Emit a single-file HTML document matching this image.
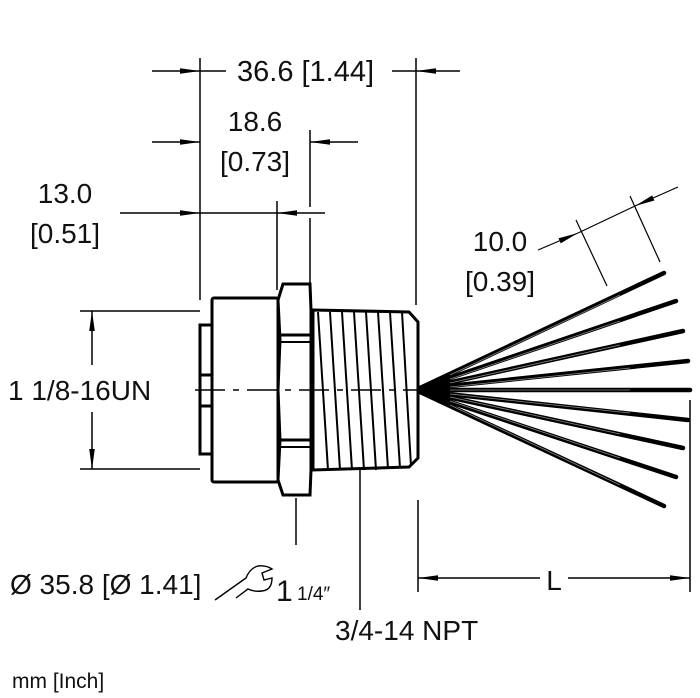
<!DOCTYPE html>
<html><head><meta charset="utf-8"><style>
html,body{margin:0;padding:0;background:#fff;}
svg{display:block;}
text{font-family:"Liberation Sans",sans-serif;fill:#111;}
</style></head><body>
<svg width="700" height="698" viewBox="0 0 700 698" xmlns="http://www.w3.org/2000/svg">
<defs>
<marker id="a" markerWidth="20" markerHeight="8" refX="20" refY="4" orient="auto" markerUnits="userSpaceOnUse"><path d="M0,1.2 L20,4 L0,6.8 Z" fill="#000"/></marker>
</defs>
<g stroke="#000" stroke-width="1.5" fill="none">
<line x1="200" y1="58" x2="200" y2="300"/>
<line x1="416" y1="58" x2="416" y2="305"/>
<line x1="310" y1="130" x2="310" y2="207"/>
<line x1="310" y1="218" x2="310" y2="284"/>
<line x1="277" y1="201" x2="277" y2="290"/>
<line x1="152" y1="71" x2="200" y2="71" marker-end="url(#a)"/>
<line x1="200" y1="71" x2="226" y2="71"/>
<line x1="460" y1="71" x2="416" y2="71" marker-end="url(#a)"/>
<line x1="392" y1="71" x2="416" y2="71"/>
<line x1="152" y1="142" x2="200" y2="142" marker-end="url(#a)"/>
<line x1="358" y1="142" x2="310" y2="142" marker-end="url(#a)"/>
<line x1="120" y1="213" x2="200" y2="213" marker-end="url(#a)"/>
<line x1="200" y1="213" x2="277" y2="213"/>
<line x1="325" y1="213" x2="277" y2="213" marker-end="url(#a)"/>
<line x1="80" y1="311" x2="200" y2="311"/>
<line x1="80" y1="469" x2="200" y2="469"/>
<line x1="92" y1="365" x2="92" y2="311" marker-end="url(#a)"/>
<line x1="92" y1="412" x2="92" y2="469" marker-end="url(#a)"/>
<line x1="418" y1="500" x2="418" y2="592"/>
<line x1="690" y1="400" x2="690" y2="592"/>
<line x1="540" y1="578" x2="418" y2="578" marker-end="url(#a)"/>
<line x1="568" y1="578" x2="690" y2="578" marker-end="url(#a)"/>
<line x1="296" y1="498" x2="296" y2="545"/>
<line x1="360" y1="470" x2="360" y2="610"/>
<line x1="576" y1="220" x2="607" y2="286" stroke-width="1.2"/>
<line x1="630" y1="196" x2="660" y2="262" stroke-width="1.2"/>
<line x1="538" y1="250" x2="578" y2="233" marker-end="url(#a)" stroke-width="1.2"/>
<line x1="678" y1="187" x2="635" y2="206" marker-end="url(#a)" stroke-width="1.2"/>
<line x1="578" y1="233" x2="635" y2="206" stroke-width="1.2"/>
</g>
<g stroke="#000" fill="#fff" stroke-width="3">
<rect x="200" y="325" width="12" height="129"/>
<line x1="200" y1="375" x2="212" y2="375"/>
<line x1="200" y1="406" x2="212" y2="406"/>
<rect x="212" y="298" width="66" height="184" rx="2"/>
<path d="M283,284 L310,284 L311,310 L311,470 L310,495 L283,495 L278,480 L280,440 L278,390 L280,340 L278,300 Z"/>
<line x1="280" y1="335" x2="311" y2="335"/>
<line x1="280" y1="342" x2="311" y2="342" stroke-width="2"/>
<line x1="280" y1="440" x2="311" y2="440"/>
<line x1="280" y1="447" x2="311" y2="447" stroke-width="2"/>
<path d="M313,310 L409,312 L418,322 L418,458 L409,467 L313,470 Z"/>
</g>
<g stroke="#000" stroke-width="2">
<line x1="318" y1="312" x2="328" y2="470"/><line x1="330" y1="312" x2="340" y2="470"/>
<line x1="342" y1="312" x2="352" y2="470"/><line x1="354" y1="312" x2="364" y2="470"/>
<line x1="366" y1="312" x2="376" y2="470"/><line x1="378" y1="312" x2="388" y2="469"/>
<line x1="390" y1="312" x2="400" y2="468"/><line x1="402" y1="312" x2="411" y2="466"/>
</g>
<line x1="195" y1="390" x2="420" y2="390" stroke="#000" stroke-width="1.5" stroke-dasharray="30,8,6,8"/>
<g stroke="#000" stroke-width="4.5" stroke-linecap="round">
<line x1="420" y1="388" x2="664" y2="273"/>
<line x1="420" y1="388" x2="676" y2="301"/>
<line x1="420" y1="389" x2="683" y2="331"/>
<line x1="420" y1="389" x2="688" y2="361"/>
<line x1="420" y1="390" x2="690" y2="390"/>
<line x1="420" y1="391" x2="688" y2="420"/>
<line x1="420" y1="391" x2="683" y2="448"/>
<line x1="420" y1="392" x2="676" y2="477"/>
<line x1="420" y1="392" x2="664" y2="506"/>
</g>
<g stroke="#888" stroke-width="0.8">
<line x1="450" y1="375" x2="620" y2="295"/>
<line x1="450" y1="379" x2="620" y2="321"/>
<line x1="450" y1="383" x2="620" y2="345"/>
<line x1="450" y1="387" x2="630" y2="368"/>
<line x1="450" y1="390" x2="630" y2="390"/>
<line x1="450" y1="394" x2="630" y2="413"/>
<line x1="450" y1="397" x2="620" y2="434"/>
<line x1="450" y1="401" x2="620" y2="458"/>
<line x1="450" y1="405" x2="620" y2="485"/>
</g>
<text x="237" y="81" font-size="29">36.6 [1.44]</text>
<text x="255" y="131" font-size="28" text-anchor="middle">18.6</text>
<text x="255" y="171" font-size="28" text-anchor="middle">[0.73]</text>
<text x="65" y="203" font-size="28" text-anchor="middle">13.0</text>
<text x="65" y="243" font-size="28" text-anchor="middle">[0.51]</text>
<text x="8" y="400" font-size="28">1 1/8-16UN</text>
<text x="500" y="251" font-size="28" text-anchor="middle">10.0</text>
<text x="500" y="291" font-size="28" text-anchor="middle">[0.39]</text>
<text x="554" y="590" font-size="28" text-anchor="middle">L</text>
<text x="10" y="594" font-size="28">Ø 35.8 [Ø 1.41]</text>
<path d="M215,600 L246,578 Q250,568 258,566 Q266,565 272,569 L262,573 L264,580 L272,578 Q272,590 262,591 Q254,592 248,589 Q240,595 236,598" fill="none" stroke="#000" stroke-width="1.4"/>
<text x="276" y="601" font-size="30">1</text>
<text x="297" y="600" font-size="19">1/4″</text>
<text x="335" y="640" font-size="28">3/4-14  NPT</text>
<text x="12" y="688" font-size="21">mm [Inch]</text>
</svg>
</body></html>
